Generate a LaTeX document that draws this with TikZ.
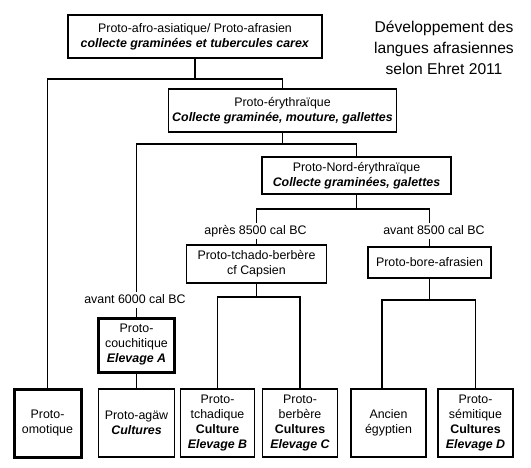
\documentclass[tikz,border=0pt]{standalone}
\usepackage{fontspec}
\setmainfont{Liberation Sans}
\begin{document}
\begin{tikzpicture}[x=1pt,y=-1pt,
  box/.style={draw, line width=1.6pt, align=center, inner sep=0pt, font=\fontsize{12.4}{15}\selectfont},
  thickbox/.style={box, line width=3pt},
  leaf/.style={box, minimum width=75pt, minimum height=68pt},
  lbl/.style={inner sep=0pt, font=\fontsize{12.4}{15}\selectfont, text height=8.8pt, text depth=2.6pt, outer sep=2.5pt},
  conn/.style={line width=1.6pt}]
\useasboundingbox (0,0) rectangle (531,467);

\node[box, minimum width=254pt, minimum height=43pt] (top) at (195,36.5)
  {Proto-afro-asiatique/ Proto-afrasien\\\textbf{\textit{collecte graminées et tubercules carex}}};
\node[align=center, inner sep=0pt, font=\fontsize{15.6}{21}\selectfont] (title) at (444,47.5)
  {Développement des\\langues afrasiennes\\selon Ehret 2011};

\node[box, minimum width=228pt, minimum height=43pt] (ery) at (282.5,110.5)
  {Proto-érythraïque\\\textbf{\textit{Collecte graminée, mouture, gallettes}}};
\node[box, minimum width=189pt, minimum height=37pt] (nord) at (356.5,175.5)
  {Proto-Nord-érythraïque\\\textbf{\textit{Collecte graminées, galettes}}};

\node[lbl] (lapres) at (255.5,231) {après 8500 cal BC};
\node[lbl] (lavant) at (434,231) {avant 8500 cal BC};
\node[box, minimum width=140pt, minimum height=38pt] (tchado) at (256.5,264)
  {Proto-tchado-berbère\\cf Capsien};
\node[box, minimum width=123pt, minimum height=31pt] (bore) at (429.5,262.5)
  {Proto-bore-afrasien};

\node[lbl] (l6000) at (135,300) {avant 6000 cal BC};
\node[thickbox, minimum width=76pt, minimum height=54pt] (couch) at (136.5,345)
  {Proto-\\couchitique\\\textbf{\textit{Elevage A}}};

\node[thickbox, minimum width=67pt, minimum height=68pt] (omo) at (47.5,423)
  {Proto-\\omotique};
\node[leaf, minimum width=76pt] (agaw) at (136.5,423)
  {Proto-agäw\\\textbf{\textit{Cultures}}};
\node[leaf, minimum width=74pt] (tchad) at (217.5,423)
  {Proto-\\tchadique\\\textbf{Culture}\\\textbf{\textit{Elevage B}}};
\node[leaf] (berb) at (300,423)
  {Proto-\\berbère\\\textbf{Cultures}\\\textbf{\textit{Elevage C}}};
\node[leaf] (egy) at (388.5,423)
  {Ancien\\égyptien};
\node[leaf] (semi) at (475.5,423)
  {Proto-\\sémitique\\\textbf{Cultures}\\\textbf{\textit{Elevage D}}};

\coordinate (j1) at (195,79);
\coordinate (j2) at (282.5,144);
\coordinate (j3) at (356.5,209);
\coordinate (j4) at (256.5,297);
\coordinate (j5) at (429.5,300);

\draw[conn] (top.south) -- (j1);
\draw[conn] (omo.north) |- (j1) -| (ery.north);
\draw[conn] (ery.south) -- (j2);
\draw[conn] (couch.north |- l6000.north) |- (j2) -| (nord.north);
\draw[conn] (couch.north |- l6000.south) -- (couch.north);
\draw[conn] (couch.south) -- (agaw.north);
\draw[conn] (nord.south) -- (j3);
\draw[conn] (tchado.north |- lapres.north) |- (j3) -| (bore.north |- lavant.north);
\draw[conn] (tchado.north |- lapres.south) -- (tchado.north);
\draw[conn] (bore.north |- lavant.south) -- (bore.north);
\draw[conn] (tchado.south) -- (j4);
\draw[conn] (tchad.north) |- (j4) -| (berb.north);
\draw[conn] (bore.south) -- (j5);
\draw[conn] ([xshift=-6.5pt]egy.north) |- (j5) -| (semi.north);
\end{tikzpicture}
\end{document}
